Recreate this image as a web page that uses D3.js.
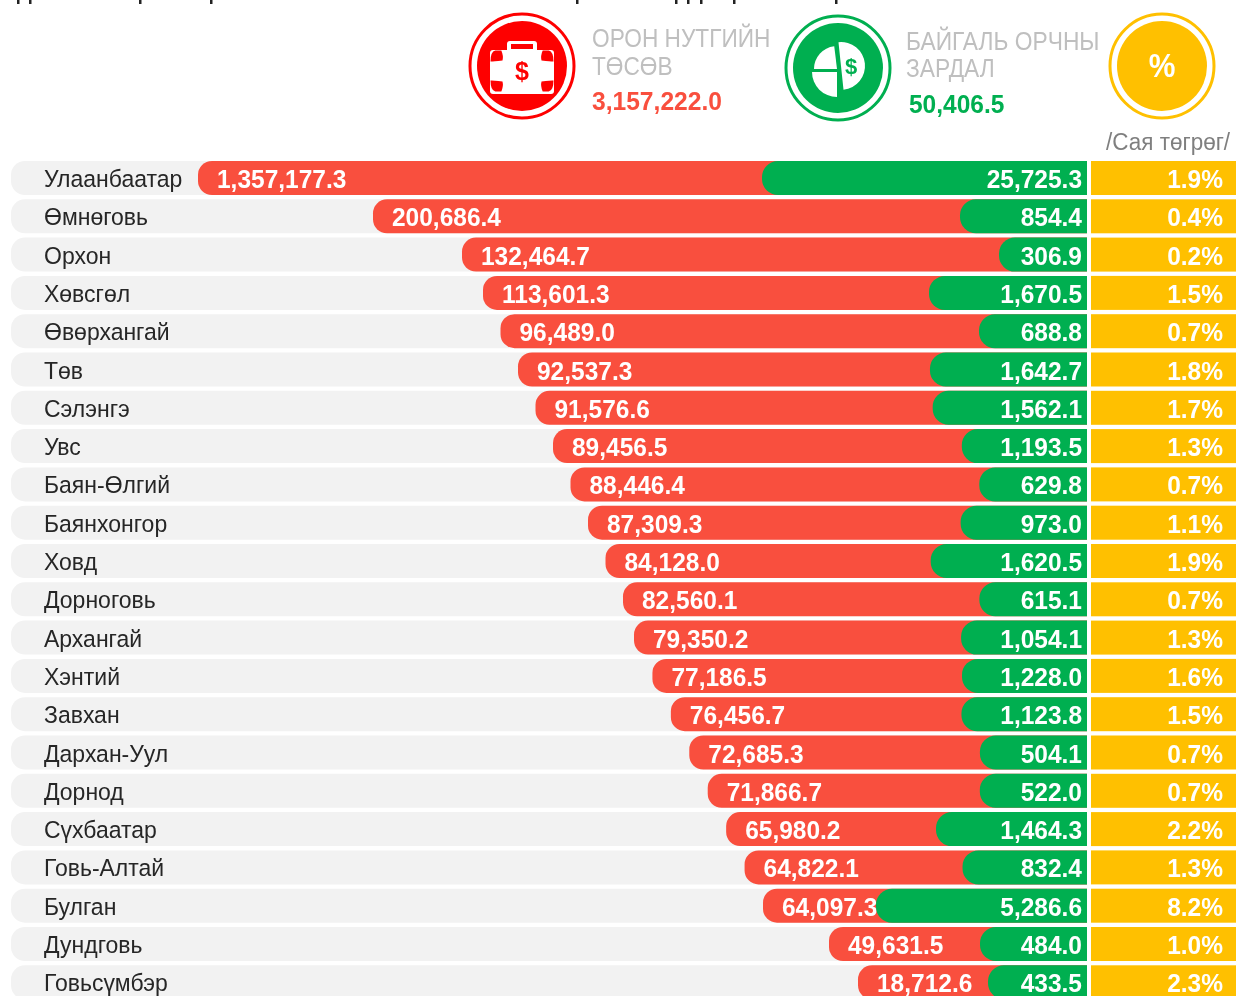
<!DOCTYPE html>
<html><head><meta charset="utf-8">
<script src="https://cdn.jsdelivr.net/npm/d3@7"></script>
<style>html,body{margin:0;padding:0;background:#fff;overflow:hidden}svg{display:block;filter:blur(.5px)}text{font-family:"Liberation Sans",Arial,sans-serif}</style>
</head><body><div id="c"></div>
<script>
const regions=["Улаанбаатар","Өмнөговь","Орхон","Хөвсгөл","Өвөрхангай","Төв","Сэлэнгэ","Увс","Баян-Өлгий","Баянхонгор","Ховд","Дорноговь","Архангай","Хэнтий","Завхан","Дархан-Уул","Дорнод","Сүхбаатар","Говь-Алтай","Булган","Дундговь","Говьсүмбэр"];
const budget=[1357177.3,200686.4,132464.7,113601.3,96489.0,92537.3,91576.6,89456.5,88446.4,87309.3,84128.0,82560.1,79350.2,77186.5,76456.7,72685.3,71866.7,65980.2,64822.1,64097.3,49631.5,18712.6];
const envCost=[25725.3,854.4,306.9,1670.5,688.8,1642.7,1562.1,1193.5,629.8,973.0,1620.5,615.1,1054.1,1228.0,1123.8,504.1,522.0,1464.3,832.4,5286.6,484.0,433.5];
const share=[1.9,0.4,0.2,1.5,0.7,1.8,1.7,1.3,0.7,1.1,1.9,0.7,1.3,1.6,1.5,0.7,0.7,2.2,1.3,8.2,1.0,2.3];
const totalBudget=3157222.0, totalEnv=50406.5;

const RED="#f94f3e",GREEN="#00af50",YEL="#ffc000",GREY="#f2f2f2";
const W=1236,H=996;
const svg=d3.select("#c").append("svg").attr("width",W).attr("height",H);
const fmt=d3.format(",.1f");
const step=38.3, gap=4.3;
const y=d3.scaleBand().domain(regions).range([161,161+step*regions.length-gap]).paddingInner(gap/step).paddingOuter(0).align(0);
const bh=y.bandwidth();
// The source graphic is not to scale: bars step by budget rank, not by value.
const rankEdge=d3.scaleLinear().domain([0,1,2,3,11,12,19,20,21]).range([198,373,462,483,623,634,763,829,858]);
const order=budget.slice().sort((a,b)=>b-a);
const redX=v=>rankEdge(order.indexOf(v));
const greenX=d3.scaleLinear().domain([306.9,433.5,484,688.8,854.4,1228,1464.3,1670.5,5286.6,25725.3]).range([999,988,980,979,960,962,936,929,876,762]);
const right=1087, colL=1091, colR=1236, track=11;

function roundedLeft(x0,x1,y0,h,r){
  const p=d3.path();p.moveTo(x1,y0);p.lineTo(x0+r,y0);p.arcTo(x0,y0,x0,y0+r,r);
  p.lineTo(x0,y0+h-r);p.arcTo(x0,y0+h,x0+r,y0+h,r);p.lineTo(x1,y0+h);p.closePath();return p.toString();
}
// cropped title: only descender ink survives at the top edge
svg.append("g").selectAll("rect").data([17,29,139,210,576,675,687,700,733,835]).join("rect")
  .attr("x",d=>d).attr("y",0).attr("width",2.5).attr("height",4).attr("fill","#222");

const stretch=(x,yy,sy)=>`translate(${x},${yy}) scale(1,${sy})`;
const row=svg.append("g").selectAll("g").data(regions).join("g").attr("transform",d=>`translate(0,${y(d)})`);
row.append("path").attr("d",()=>roundedLeft(track,right,0,bh,14)).attr("fill",GREY);
row.append("text").attr("transform",stretch(44,bh/2+9,1.06)).attr("font-size",23).attr("fill","#262626").text(d=>d);
row.append("path").attr("d",(d,i)=>roundedLeft(redX(budget[i]),right,0,bh,14)).attr("fill",RED);
row.append("text").attr("transform",(d,i)=>stretch(redX(budget[i])+19,bh/2+10,1.08)).attr("font-size",24.5).attr("font-weight",700).attr("fill","#fff").text((d,i)=>fmt(budget[i]));
row.append("path").attr("d",(d,i)=>roundedLeft(greenX(envCost[i]),right,0,bh,16)).attr("fill",GREEN);
row.append("text").attr("transform",stretch(1082,bh/2+10,1.08)).attr("text-anchor","end").attr("font-size",24.5).attr("font-weight",700).attr("fill","#fff").text((d,i)=>fmt(envCost[i]));
row.append("rect").attr("x",colL).attr("width",colR-colL).attr("height",bh).attr("fill",YEL);
row.append("text").attr("transform",stretch(1223,bh/2+10,1.08)).attr("text-anchor","end").attr("font-size",24.5).attr("font-weight",700).attr("fill","#fff").text((d,i)=>share[i].toFixed(1)+"%");

function badge(cx,cy,col){
  const g=svg.append("g").attr("transform",`translate(${cx},${cy})`);
  g.append("circle").attr("r",52).attr("fill","#fff").attr("stroke",col).attr("stroke-width",3);
  g.append("circle").attr("r",45).attr("fill",col);
  return g;
}
// red briefcase
const b=badge(522,66,"#fe0000");
b.append("rect").attr("x",-15).attr("y",-25).attr("width",30).attr("height",12).attr("rx",3).attr("fill","#fff");
b.append("rect").attr("x",-11).attr("y",-22).attr("width",22).attr("height",5).attr("fill","#fe0000");
b.append("rect").attr("x",-32).attr("y",-16).attr("width",64).attr("height",44).attr("rx",3).attr("fill","#fff");
[[-1,-1],[1,-1],[-1,1],[1,1]].forEach(([sx,sy])=>{
  b.append("path").attr("transform",`translate(${sx*25.5},${sy>0?20:-10}) scale(${sx*1.2},${sy*1.1})`)
   .attr("d","M-5,-4 Q3,-5 4,-5 L5,-5 Q5,4 1,5 L-4,5 Q-6,0 -5,-4Z").attr("fill","#fe0000");
});
b.append("text").attr("x",0).attr("y",14).attr("text-anchor","middle").attr("font-size",25).attr("font-weight",700).attr("fill","#fe0000").text("$");
// green pie
const g=badge(838,68,GREEN);
const arc=d3.arc();
g.append("path").attr("d",arc({innerRadius:0,outerRadius:24,startAngle:0,endAngle:Math.PI})).attr("transform","translate(3,-2) rotate(-6)").attr("fill","#fff");
g.append("path").attr("d",arc({innerRadius:0,outerRadius:25,startAngle:Math.PI,endAngle:Math.PI*1.5})).attr("transform","translate(-1,4)").attr("fill","#fff");
g.append("path").attr("d",arc({innerRadius:0,outerRadius:23,startAngle:-Math.PI/2,endAngle:-0.12})).attr("transform","translate(-1,1)").attr("fill","#fff");
g.append("text").attr("x",13).attr("y",6).attr("text-anchor","middle").attr("font-size",22).attr("font-weight",700).attr("fill",GREEN).text("$");
// percent
const p=badge(1162,66,YEL);
p.append("text").attr("transform",stretch(0,11,1.1)).attr("text-anchor","middle").attr("font-size",30).attr("font-weight",700).attr("fill","#fff").text("%");

const hdr=(x,yy,t,size,col,w,sx)=>svg.append("text").attr("transform",`translate(${x},${yy}) scale(${sx||1},1.05)`).attr("font-size",size).attr("fill",col).attr("font-weight",w||400).text(t);
hdr(592,47,"ОРОН НУТГИЙН",24,"#bfbfbf",400,.945);
hdr(592,75,"ТӨСӨВ",24,"#bfbfbf",400,.945);
hdr(592,110,fmt(totalBudget),24.6,RED,700);
hdr(906,50,"БАЙГАЛЬ ОРЧНЫ",24,"#bfbfbf",400,.95);
hdr(906,77,"ЗАРДАЛ",24,"#bfbfbf",400,.95);
hdr(909,113,fmt(totalEnv),24.5,GREEN,700);
hdr(1106,150,"/Сая төгрөг/",22.5,"#7f7f7f");
</script></body></html>
